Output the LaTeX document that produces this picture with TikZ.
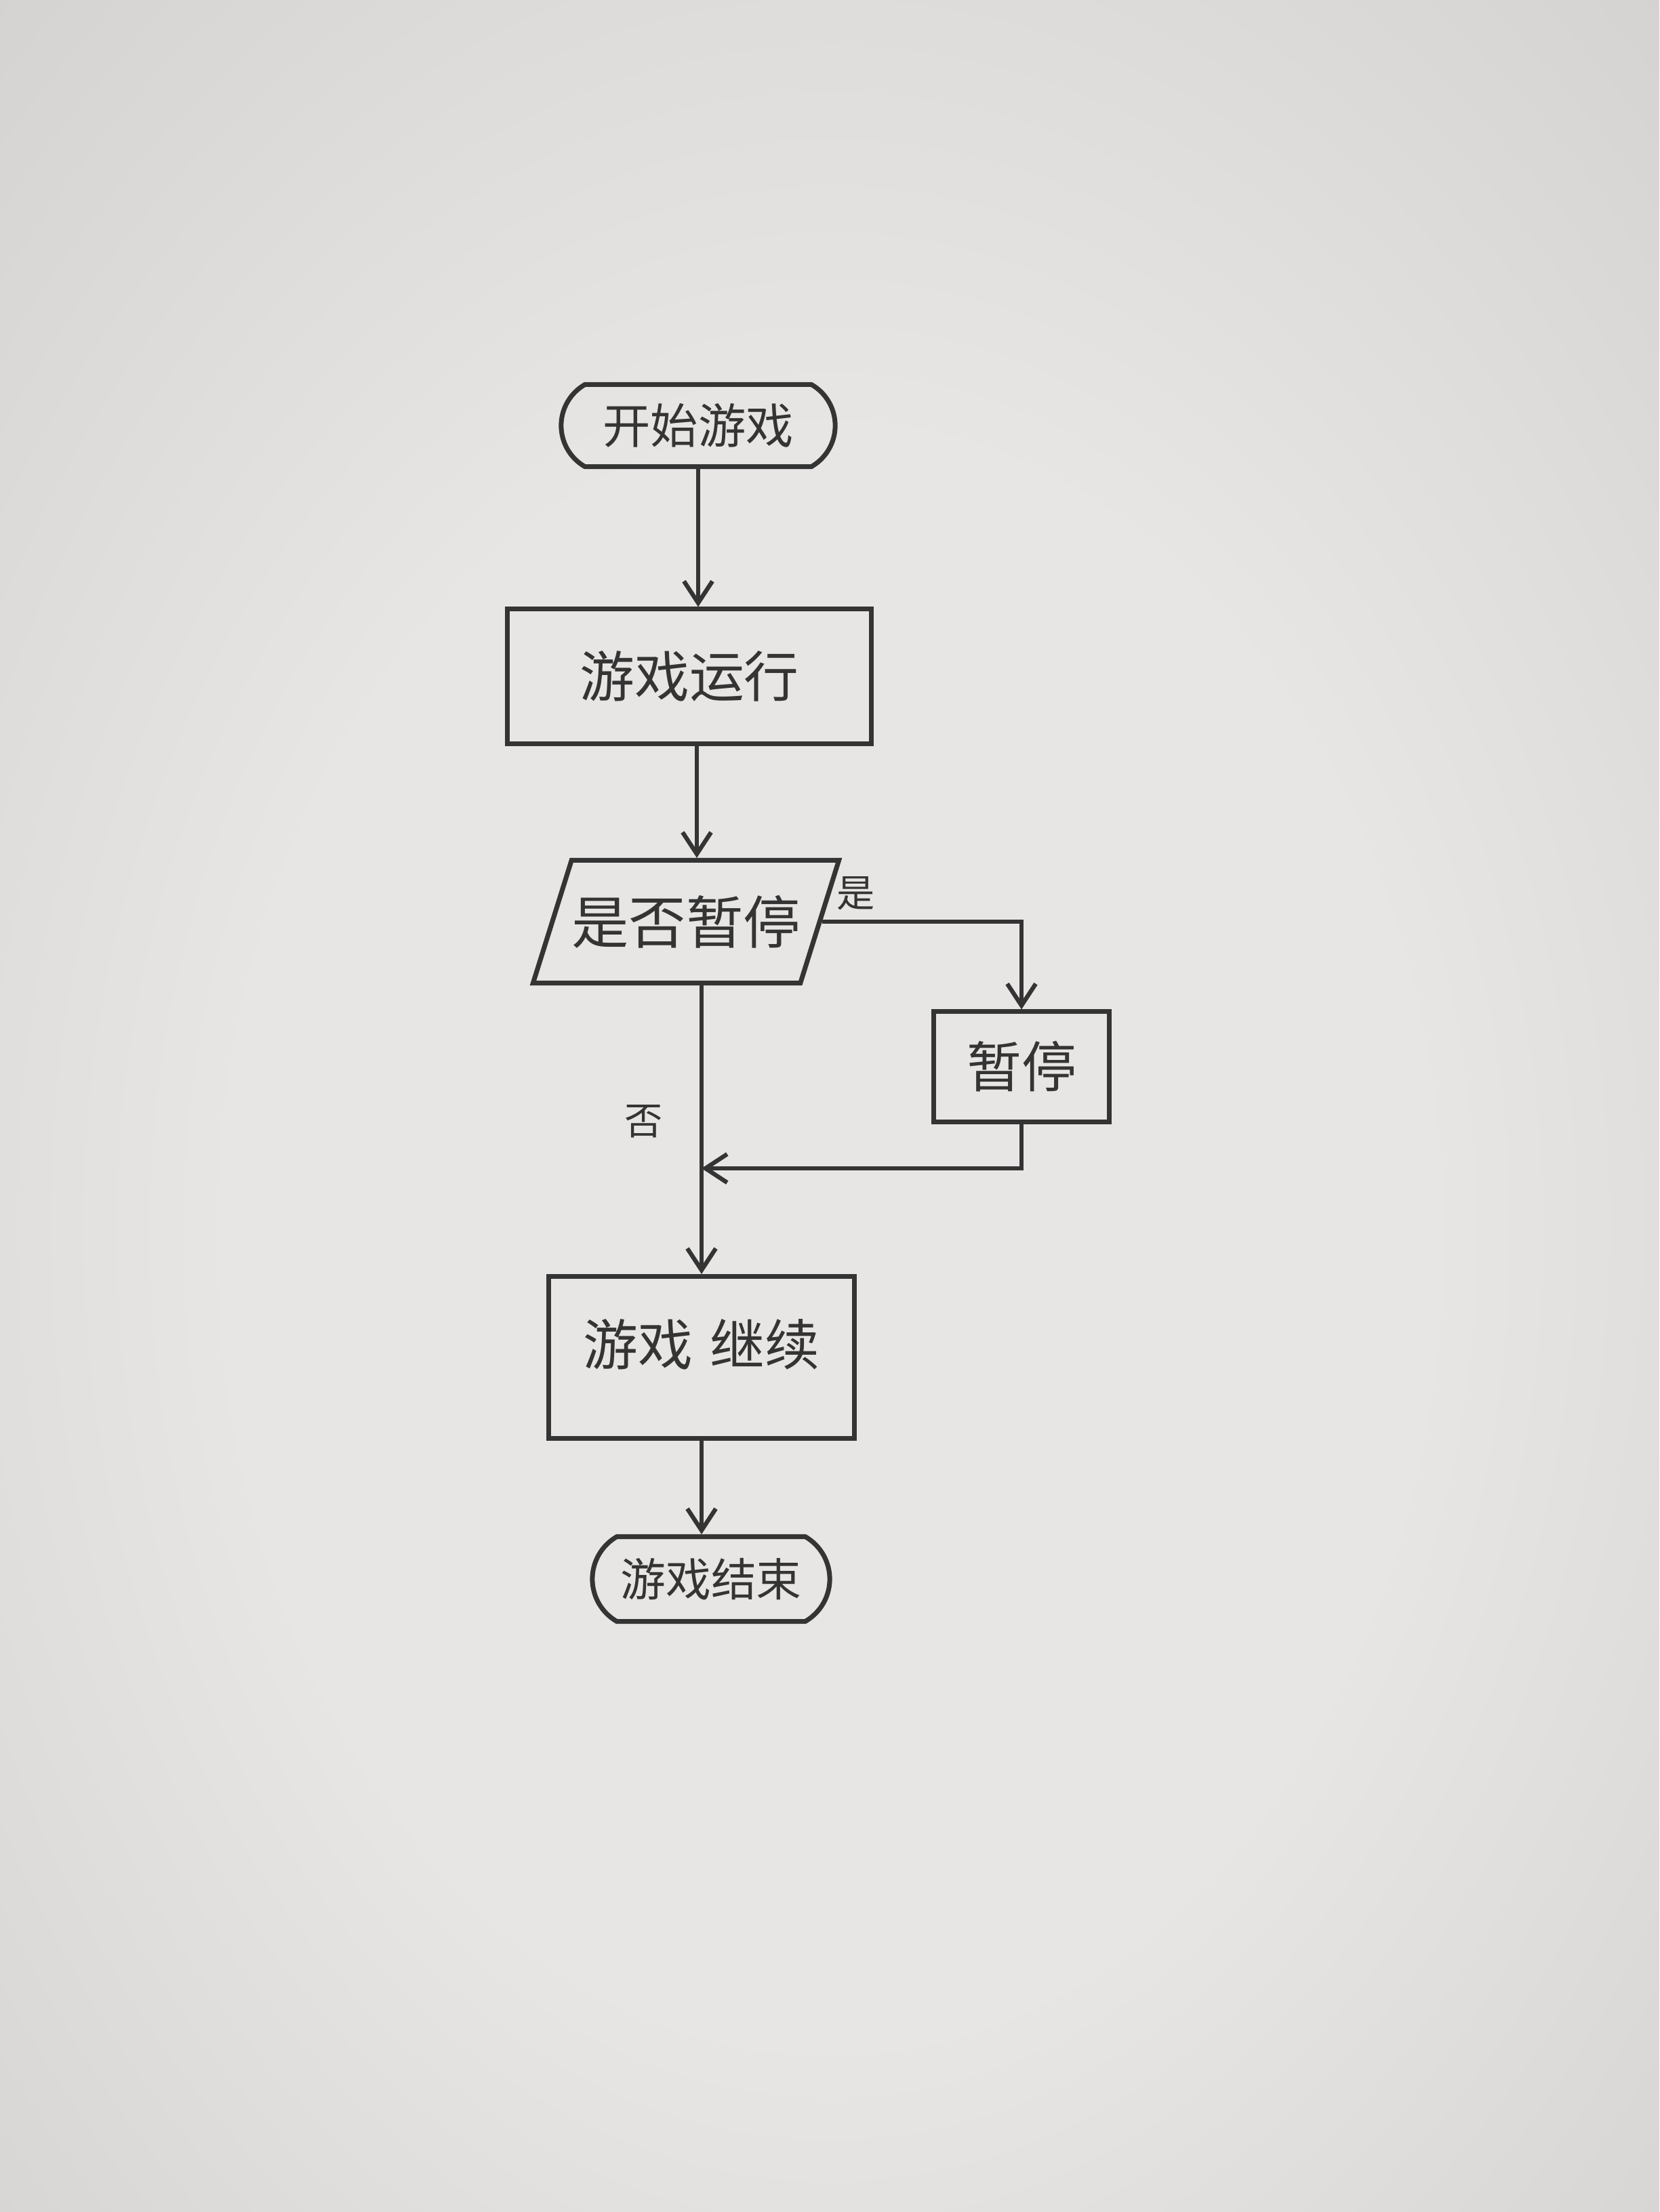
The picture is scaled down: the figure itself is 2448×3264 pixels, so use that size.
\documentclass[tikz,border=0pt]{standalone}
\usepackage{fontspec}
\newfontfamily\cjk{Noto Sans CJK SC}
\usetikzlibrary{shapes.geometric,shapes.misc,arrows.meta,calc}
\definecolor{pencil}{RGB}{52,52,52}
\definecolor{paperin}{RGB}{232,230,228}
\definecolor{papermid}{RGB}{208,206,204}
\definecolor{paperout}{RGB}{140,138,136}
\pgfdeclareradialshading{paper}{\pgfpoint{0bp}{-4bp}}{color(0bp)=(paperin); color(18bp)=(paperin); color(42bp)=(papermid); color(72bp)=(paperout)}
\tikzset{
  box/.style={draw=pencil, line width=2pt, rectangle, inner sep=0pt, font=\cjk\fontsize{23}{26}\selectfont, text=pencil},
  term/.style={draw=pencil, line width=2pt, rounded rectangle, rounded rectangle arc length=120, inner sep=0pt, text=pencil},
  decis/.style={draw=pencil, line width=2pt, trapezium, trapezium left angle=54, trapezium right angle=126, trapezium stretches=true, inner sep=0pt, font=\cjk\fontsize{24}{26}\selectfont, text=pencil},
  arr/.style={draw=pencil, line width=1.8pt, -{Straight Barb[length=0.32cm,width=0.42cm,line width=1.8pt]}},
  lab/.style={font=\cjk\fontsize{16}{18}\selectfont, text=pencil, inner sep=0pt}
}
\begin{document}
\begin{tikzpicture}[x=0.01cm,y=-0.01cm]
\useasboundingbox (0,0) rectangle (2448,3264);
\shade[shading=paper] (0,0) rectangle (2448,3264);

\node[term, minimum width=4.04cm, minimum height=1.21cm, font=\cjk\fontsize{20}{22}\selectfont] (start) at (1030,628) {开始游戏};
\node[box, minimum width=5.37cm, minimum height=1.98cm] (run) at (1017,998) {游戏运行};
\node[decis, minimum width=4.3cm, minimum height=1.81cm] (dec) at (1012,1360) {是否暂停};
\node[box, minimum width=2.58cm, minimum height=1.62cm] (pause) at (1507,1574) {暂停};
\node[box, minimum width=4.51cm, minimum height=2.39cm, text height=0.72cm, text depth=0.5cm] (cont) at (1035,2003) {游戏\hspace{0.25cm}继续};
\node[term, minimum width=3.5cm, minimum height=1.25cm, font=\cjk\fontsize{19}{21}\selectfont] (end) at (1049,2330) {游戏结束};

\node[lab] (yes) at (1263,1318) {是};
\node[lab] (no) at (950,1655) {否};

\coordinate (m) at (1035,1724);

\draw[arr] (start.south) -- (start.south |- run.north);
\draw[arr] (run.south -| 1028,0) -- (1028,0 |- dec.north);
\draw[arr] (dec.east) -| (pause.north);
\draw[arr] (pause.south) |- (m);
\draw[arr] (dec.south -| cont.north) -- (cont.north);
\draw[arr] (cont.south) -- (cont.south |- end.north);
\end{tikzpicture}
\end{document}
